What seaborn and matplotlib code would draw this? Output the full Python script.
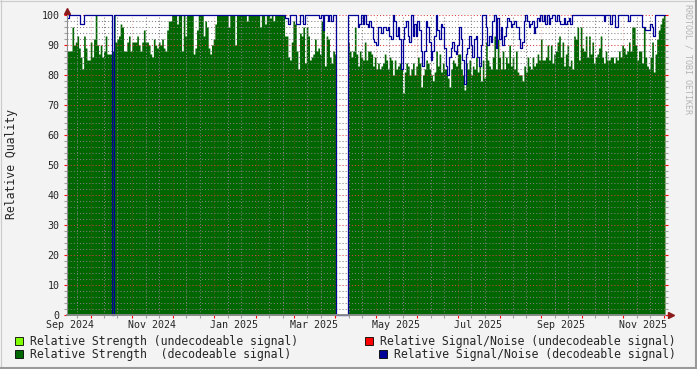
import numpy as np
import pandas as pd
import matplotlib
matplotlib.use("Agg")
import matplotlib.pyplot as plt
import matplotlib.dates as mdates
from matplotlib.patches import Rectangle
from matplotlib.lines import Line2D
import seaborn as sns

# time span covered by the graph (rrdtool consolidates one value per ~1.7 px)
start = pd.Timestamp("2024-09-13 12:00")
end = pd.Timestamp("2025-12-02 00:00")

# relative strength (decodeable signal), left to right
strength_sep_oct = [88, 88, 88, 96, 90, 91, 93, 89, 86, 82,
                    93, 89, 85, 85, 91, 86, 92, 100, 90, 87,
                    90, 86, 88, 93, 87, 87, 87, 88, 100, 91,
                    92, 93, 97, 96, 88, 88, 91, 93, 88, 91,
                    91, 91, 93, 90, 88, 91, 95, 91, 91, 90,
                    87, 86, 92, 90, 89, 91, 90, 92, 89, 88]
strength_dec_feb = [95, 98, 98, 100, 100, 100, 97, 100, 100, 88,
                    100, 93, 100, 100, 100, 100, 87, 89, 95, 100,
                    100, 100, 93, 98, 96, 89, 87, 90, 92, 97,
                    100, 100, 100, 100, 100, 100, 100, 96, 100, 100,
                    100, 90, 100, 100, 100, 100, 100, 100, 98, 100,
                    100, 100, 100, 100, 100, 100, 96, 100, 100, 97,
                    100, 100]
strength_mar_apr = [99, 100, 98, 100, 100, 100, 100, 100, 100, 93,
                    93, 86, 85, 91, 98, 97, 88, 82, 94, 93,
                    96, 84, 96, 93, 85, 86, 87, 92, 88, 89,
                    87, 98, 98, 83, 93, 92, 86, 84, 88, 87,
                    0, 0, 0, 0, 0, 0, 0, 91, 88, 86,
                    88, 96, 87, 83, 88, 86, 85, 91, 85, 88,
                    88, 87]
strength_apr_jun = [83, 86, 82, 84, 82, 83, 84, 87, 85, 82,
                    86, 85, 80, 85, 82, 83, 84, 82, 74, 81,
                    84, 83, 80, 82, 84, 80, 83, 86, 84, 76,
                    80, 82, 85, 84, 82, 80, 78, 81, 88, 83,
                    87, 81, 84, 82, 82, 79, 76, 82, 85, 84,
                    83, 87, 87, 82, 80, 75, 84, 82, 85, 80,
                    83, 82]
strength_jun_aug = [86, 81, 83, 78, 85, 79, 91, 85, 83, 82,
                    86, 93, 82, 92, 86, 82, 88, 82, 86, 84,
                    90, 83, 86, 82, 88, 81, 80, 80, 78, 83,
                    81, 86, 83, 82, 86, 83, 84, 87, 85, 92,
                    85, 85, 86, 90, 85, 90, 84, 87, 88, 91,
                    93, 86, 91, 83, 87, 90, 83, 85, 82, 93,
                    92, 96]
strength_sep_nov = [85, 96, 89, 88, 93, 86, 93, 87, 91, 84,
                    86, 87, 89, 93, 86, 84, 88, 85, 85, 86,
                    86, 84, 86, 85, 88, 86, 90, 89, 87, 88,
                    91, 88, 96, 96, 90, 85, 88, 88, 84, 96,
                    86, 83, 82, 86, 91, 81, 87, 92, 95, 97,
                    99, 100]

# relative signal/noise (decodeable signal)
snr_sep_oct = [99, 100, 100, 100, 100, 100, 100, 100, 97, 97,
               100, 100, 100, 100, 100, 100, 100, 100, 100, 100,
               100, 100, 100, 100, 100, 100, 100, 0, 100, 100,
               100, 100, 100, 100, 100, 100, 100, 100, 100, 100,
               100, 100, 100, 100, 100, 100, 100, 100, 100, 100,
               100, 100, 100, 100, 100, 100, 100, 100, 100, 100]
snr_dec_feb = [100] * 62
snr_mar_apr = [100, 100, 100, 100, 100, 100, 100, 100, 100, 99,
               99, 97, 100, 100, 100, 100, 97, 97, 100, 100,
               97, 100, 100, 100, 100, 100, 100, 100, 100, 100,
               99, 100, 95, 100, 100, 98, 100, 98, 100, 100,
               0, 0, 0, 0, 0, 0, 0, 100, 100, 100,
               100, 100, 100, 96, 97, 100, 97, 100, 97, 96,
               98, 96]
snr_apr_jun = [92, 91, 90, 96, 96, 94, 96, 96, 95, 96,
               93, 92, 100, 98, 93, 96, 92, 82, 92, 96,
               98, 93, 91, 100, 93, 97, 93, 98, 95, 88,
               83, 88, 98, 96, 91, 85, 88, 93, 100, 95,
               92, 97, 96, 89, 83, 80, 86, 89, 91, 88,
               87, 90, 96, 92, 85, 77, 87, 89, 93, 90,
               86, 92]
snr_jun_aug = [93, 86, 83, 90, 100, 100, 96, 90, 93, 91,
               98, 100, 89, 99, 92, 96, 90, 93, 96, 99,
               98, 96, 97, 98, 96, 96, 92, 89, 91, 98,
               100, 98, 96, 97, 98, 94, 96, 99, 98, 100,
               98, 100, 97, 100, 97, 99, 100, 100, 98, 100,
               98, 97, 97, 99, 97, 98, 99, 97, 100, 100,
               100, 100]
snr_sep_nov = [100, 100, 100, 100, 100, 100, 100, 100, 100, 100,
               100, 100, 100, 100, 100, 98, 100, 100, 100, 97,
               100, 100, 96, 96, 100, 100, 100, 100, 100, 100,
               98, 100, 100, 100, 100, 100, 100, 100, 96, 96,
               95, 95, 95, 97, 96, 93, 100, 100, 100, 100,
               100, 100]

legend_labels = ["Relative Strength (undecodeable signal)",
                 "Relative Signal/Noise (undecodeable signal)",
                 "Relative Strength  (decodeable signal)",
                 "Relative Signal/Noise (decodeable signal)"]

strength = np.array(strength_sep_oct + strength_dec_feb + strength_mar_apr
                    + strength_apr_jun + strength_jun_aug + strength_sep_nov, float)
snr = np.array(snr_sep_oct + snr_dec_feb + snr_mar_apr
               + snr_apr_jun + snr_jun_aug + snr_sep_nov, float)
edges = pd.date_range(start, end, periods=len(strength) + 1)
df = pd.DataFrame({"time": edges,
                   "strength": np.append(strength, strength[-1]),
                   "snr": np.append(snr, snr[-1])})

BG = "#F3F3F3"
GREEN = "#006600"
LIGHT_GREEN = "#80FF00"
RED = "#FF0000"
BLUE = "#000099"
GRID = (0.5, 0.5, 0.5, 0.33)
MGRID = (0.85, 0.25, 0.25, 0.4)
ARROW = "#8B1A1A"
DOTS = (0, (1, 2))

sns.set_theme(style="white")
plt.rcParams["font.family"] = ["DejaVu Sans Mono", "DejaVu Sans"]

W, H = 697, 369
fig = plt.figure(figsize=(W / 100, H / 100), dpi=100, facecolor=BG)
ax = fig.add_axes([67 / W, 54 / H, 598 / W, 300 / H])
ax.set_facecolor("white")

ax.fill_between(df["time"], df["strength"], step="post", color=GREEN, lw=0, zorder=1)
sns.lineplot(data=df, x="time", y="snr", drawstyle="steps-post", estimator=None,
             color=BLUE, lw=0.9, ax=ax, zorder=3, clip_on=False)

ax.set_xlim(start, end)
ax.set_ylim(0, 100)
ax.set_xlabel("")
ax.set_ylabel("")

# y grid
ax.set_yticks(range(0, 101, 10))
ax.set_yticks(range(0, 101, 2), minor=True)
ax.grid(which="minor", axis="y", color=GRID, ls=DOTS, lw=0.75)
ax.grid(which="major", axis="y", color=MGRID, ls=DOTS, lw=0.75)

# x grid: labels mid-month, red lines at month starts, gray at 11th / 21st
ax.xaxis.set_major_locator(mdates.MonthLocator(bymonth=[1, 3, 5, 7, 9, 11], bymonthday=16))
ax.xaxis.set_major_formatter(mdates.DateFormatter("%b %Y"))
ax.xaxis.set_minor_locator(mdates.DayLocator(bymonthday=[11, 21]))
ax.grid(which="minor", axis="x", color=GRID, ls=DOTS, lw=0.75)
month_starts = pd.date_range("2024-10-01", "2025-12-01", freq="MS")
for m in month_starts:
    ax.axvline(m, color=MGRID, ls=DOTS, lw=0.75, zorder=2.5)
ax.vlines(month_starts, -0.01, 0, transform=ax.get_xaxis_transform(),
          colors=RED, lw=0.8, clip_on=False)
ax.set_axisbelow(False)

ax.tick_params(axis="y", which="major", length=2, width=0.8, color=RED,
               left=True, right=True, direction="out", labelsize=7.2, pad=3.5)
ax.tick_params(axis="y", which="minor", length=2, width=0.8, color="#A0A0A0",
               left=True, right=True, direction="out")
ax.tick_params(axis="x", which="major", length=0, labelsize=7.2, pad=3.5)
ax.tick_params(axis="x", which="minor", length=2, width=0.8, color="#A0A0A0",
               bottom=True, direction="out")

for s in ["top", "right"]:
    ax.spines[s].set_visible(False)
for s in ["left", "bottom"]:
    ax.spines[s].set_color("#8C8C8C")
    ax.spines[s].set_linewidth(0.8)
    ax.spines[s].set_zorder(4)
ax.spines["bottom"].set_linewidth(1.3)

# axis arrows
ax.plot([0, 0], [1, 1 + 6 / 300], transform=ax.transAxes, color="#8C8C8C",
        lw=0.8, clip_on=False)
ax.plot([0], [1 + 4.5 / 300], marker="^", ms=4.5, color=ARROW,
        transform=ax.transAxes, clip_on=False)
ax.plot([1, 1 + 6 / 598], [0, 0], transform=ax.transAxes, color="#8C8C8C",
        lw=0.8, clip_on=False)
ax.plot([1 + 5.5 / 598], [0], marker=">", ms=4.5, color=ARROW,
        transform=ax.transAxes, clip_on=False)

fig.text(12 / W, 1 - 164 / H, "Relative Quality", rotation=90,
         fontsize=8.3, ha="center", va="center")
fig.text(688 / W, 1 - 59 / H, "RRDTOOL / TOBI OETIKER", rotation=270,
         fontsize=6, color="#B4B4B4", ha="center", va="center")

# legend, rrdtool style
legend_items = [(LIGHT_GREEN, 15, 337, 30, legend_labels[0]),
                (RED, 365, 337, 380, legend_labels[1]),
                (GREEN, 15, 350, 30, legend_labels[2]),
                (BLUE, 379, 350, 394, legend_labels[3])]
for color, bx, by, tx, label in legend_items:
    fig.patches.append(Rectangle((bx / W, 1 - (by + 8) / H), 8 / W, 8 / H,
                                 transform=fig.transFigure, facecolor=color,
                                 edgecolor="black", lw=0.6))
    fig.text(tx / W, 1 - (by + 4.3) / H, label, fontsize=8.3,
             ha="left", va="center")

# 3D frame of the image
fig.add_artist(Line2D([0, 1], [1 - 0.5 / H] * 2, color="#CBCBCB", lw=0.8))
fig.add_artist(Line2D([0.5 / W] * 2, [0, 1], color="#CBCBCB", lw=0.8))
fig.add_artist(Line2D([0, 1], [1.5 / H] * 2, color="#999999", lw=1.5))
fig.add_artist(Line2D([1 - 1.5 / W] * 2, [0, 1], color="#999999", lw=1.5))

fig.savefig("out.png", dpi=100, facecolor=BG)
